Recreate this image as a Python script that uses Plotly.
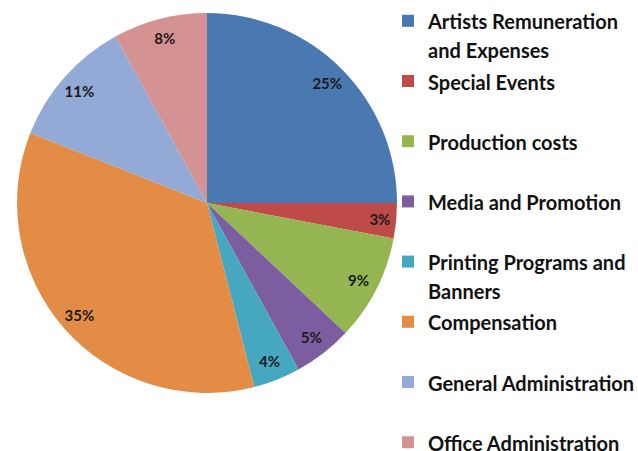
import plotly.graph_objects as go

categories = [
    "Artists Remuneration<br>and Expenses",
    "Special Events",
    "Production costs",
    "Media and Promotion",
    "Printing Programs and<br>Banners",
    "Compensation",
    "General Administration",
    "Office Administration",
]
values = [25, 3, 9, 5, 4, 35, 11, 8]
colors = ["#4A78B0", "#BE4B48", "#95B552", "#7B5DA0", "#45A7C0", "#E38C45", "#93A9D6", "#D49392"]

W, H = 638, 451

# pad legend labels to two lines so legend rows are evenly spaced (last one left as is);
# the longest label gets trailing spaces so the legend scrollbar falls outside the page
longest = max(range(len(categories)), key=lambda i: max(len(s) for s in categories[i].split("<br>")))

def pad(i, label):
    n = label.count("<br>") + 1
    lines = label.split("<br>")
    if i != len(categories) - 1:
        lines += ["\u00a0"] * (2 - n)
    if i == longest:
        lines[0] = lines[0] + "\u00a0\u00a0"
    return "<br>".join('<span style="font-size:20px">%s</span>' % s for s in lines)

labels = [pad(i, c) for i, c in enumerate(categories)]

cx, cy, r = 207, 203, 190
dom = dict(x=[(cx - r) / W, (cx + r) / W], y=[(H - cy - r) / H, (H - cy + r) / H])

fig = go.Figure()
fig.add_trace(go.Pie(
    labels=labels,
    values=values,
    sort=False,
    direction="clockwise",
    rotation=0,
    marker=dict(colors=colors, line=dict(width=0)),
    textinfo="none",
    domain=dom,
    hoverinfo="label+percent",
))
# transparent ring carrying the percentage labels near the rim
fig.add_trace(go.Pie(
    labels=labels,
    values=values,
    sort=False,
    direction="clockwise",
    rotation=0,
    hole=0.79,
    marker=dict(colors=["rgba(0,0,0,0)"] * len(values), line=dict(width=0)),
    texttemplate="<b>%{percent:.0%}</b>",
    textposition="inside",
    insidetextorientation="horizontal",
    textfont=dict(family="Lato", size=15, color="#1a1a1a"),
    domain=dom,
    showlegend=False,
    hoverinfo="skip",
))

fig.update_layout(
    width=W, height=H,
    margin=dict(l=0, r=0, t=0, b=0, autoexpand=False),
    paper_bgcolor="white",
    plot_bgcolor="white",
    showlegend=True,
    legend=dict(
        x=388 / W, xanchor="left",
        y=1.0, yanchor="top",
        valign="top",
        font=dict(family="Lato", size=22, color="#111111", weight="bold"),
        itemwidth=30,
        tracegroupgap=0,
        bgcolor="rgba(0,0,0,0)",
    ),
)

fig.write_html("out.html", config={"displayModeBar": False},
               post_script="document.body.style.margin='0';")
